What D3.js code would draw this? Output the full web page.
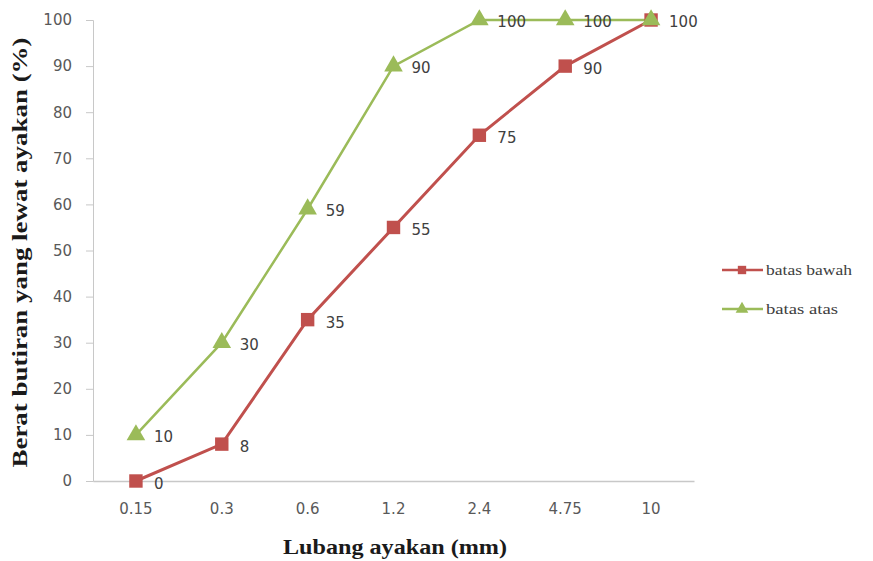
<!DOCTYPE html>
<html><head><meta charset="utf-8">
<script src="https://cdn.jsdelivr.net/npm/d3@7"></script>
<style>body{margin:0;background:#fff}svg{display:block}</style>
</head><body><svg id="c" width="873" height="561"></svg>
<script>
const categories = ["0.15","0.3","0.6","1.2","2.4","4.75","10"];
const batasBawah = [0, 8, 35, 55, 75, 90, 100];
const batasAtas = [10, 30, 59, 90, 100, 100, 100];
const yTicks = [0,10,20,30,40,50,60,70,80,90,100];
const seriesNames = ["batas bawah","batas atas"];

const svg = d3.select("#c");
const L = 93, R = 694, T = 20, B = 481;
const x = d3.scaleBand().domain(categories).range([L, R]);
const y = d3.scaleLinear().domain([0,100]).range([B, T]);
const sans = "'DejaVu Sans', sans-serif";
const serif = "'Liberation Serif', serif";

// y axis
const ya = svg.append("g").attr("transform",`translate(${L},0)`)
  .call(d3.axisLeft(y).tickValues(yTicks).tickSize(7).tickPadding(14));
ya.select(".domain").attr("stroke","#c8c8c8");
ya.selectAll(".tick line").attr("stroke","#c8c8c8");
ya.selectAll("text").attr("fill","#595959").style("font-family",sans).style("font-size","15px");

// x axis
const xa = svg.append("g").attr("transform",`translate(0,${B})`)
  .call(d3.axisBottom(x).tickSize(0).tickPadding(22));
xa.select(".domain").attr("stroke","#c8c8c8").attr("stroke-width",1.5);
xa.selectAll("text").attr("fill","#595959").style("font-family",sans).style("font-size","15px");

const cx = c => x(c) + x.bandwidth()/2;
const line = d3.line().x((d,i)=>cx(categories[i])).y(d=>y(d));

const red = "#c0504d", green = "#9bbb59";
svg.append("path").datum(batasAtas).attr("d",line).attr("fill","none").attr("stroke",green).attr("stroke-width",2.5);
svg.append("path").datum(batasBawah).attr("d",line).attr("fill","none").attr("stroke",red).attr("stroke-width",3);

const sq = d3.symbol().type(d3.symbolSquare).size(180);
const tri = d3.symbol().type(d3.symbolTriangle).size(150);

svg.append("g").selectAll("path").data(batasBawah).join("path")
  .attr("d",sq).attr("fill",red)
  .attr("transform",(d,i)=>`translate(${cx(categories[i])},${y(d)})`);
svg.append("g").selectAll("path").data(batasAtas).join("path")
  .attr("d",tri).attr("fill",green)
  .attr("transform",(d,i)=>`translate(${cx(categories[i])},${y(d)})`);

const lblStyle = s => s.attr("fill","#404040").style("font-family",sans).style("font-size","15px").attr("dominant-baseline","central");
// labels; the last point of both series coincides (100), so it carries a single label
svg.append("g").selectAll("text").data(batasBawah.map((v,i)=>({v,i})).filter(d=>!(batasAtas[d.i]===d.v)))
  .join("text").attr("x",d=>cx(categories[d.i])+18).attr("y",d=>y(d.v)+3).text(d=>d.v).call(lblStyle);
svg.append("g").selectAll("text").data(batasAtas).join("text")
  .attr("x",(d,i)=>cx(categories[i])+18).attr("y",(d,i)=>y(d)+2).text(d=>d).call(lblStyle);

// axis titles
svg.append("text").attr("transform",`translate(27,${(T+B)/2+2}) rotate(-90)`)
  .attr("text-anchor","middle").attr("fill","#1a1a1a")
  .attr("textLength",430).attr("lengthAdjust","spacingAndGlyphs")
  .style("font-family",serif).style("font-weight","bold").style("font-size","20px")
  .text("Berat butiran yang lewat ayakan (%)");
svg.append("text").attr("x",395).attr("y",554)
  .attr("text-anchor","middle").attr("fill","#1a1a1a")
  .attr("textLength",224).attr("lengthAdjust","spacingAndGlyphs")
  .style("font-family",serif).style("font-weight","bold").style("font-size","20px")
  .text("Lubang ayakan (mm)");

// legend
const leg = svg.append("g");
const colors = [red, green], legTypes = [d3.symbolSquare, d3.symbolTriangle], legLen = [86, 72];
seriesNames.forEach((n,i)=>{
  const yy = 270 + i*39;
  leg.append("line").attr("x1",722).attr("x2",763).attr("y1",yy).attr("y2",yy).attr("stroke",colors[i]).attr("stroke-width",2.5);
  leg.append("path").attr("d",d3.symbol().type(legTypes[i]).size(70)).attr("fill",colors[i]).attr("transform",`translate(742,${yy})`);
  leg.append("text").attr("x",766).attr("y",yy).attr("dominant-baseline","central").attr("fill","#404040")
    .attr("textLength",legLen[i]).attr("lengthAdjust","spacingAndGlyphs")
    .style("font-family",serif).style("font-size","15px").text(n);
});
</script></body></html>
